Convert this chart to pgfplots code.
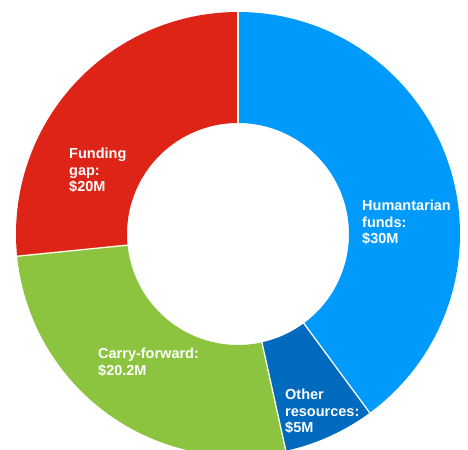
\documentclass[border=0pt]{standalone}
\usepackage{fontspec}
\setmainfont{Liberation Sans}
\usepackage{pgfplots}
\usepackage{pgfplotstable}
\pgfplotsset{compat=1.18}
\definecolor{slice0}{RGB}{0,154,252}
\definecolor{slice1}{RGB}{0,106,190}
\definecolor{slice2}{RGB}{141,196,63}
\definecolor{slice3}{RGB}{221,36,22}
\pgfplotstableread{
value
30
5
20.2
20
}\donutdata
\begin{document}
\begin{tikzpicture}
\useasboundingbox (0,0) rectangle (468bp,450bp);
\clip (0,0) rectangle (468bp,450bp);
\begin{axis}[hide axis, scale only axis, x=1bp, y=1bp,
  xmin=-238, xmax=230, ymin=-216, ymax=234,
  at={(0,0)}, anchor=south west, clip=false]
\pgfplotsextra{
  \xdef\total{0}
  \pgfplotstablegetrowsof{\donutdata}
  \pgfmathtruncatemacro{\nrows}{\pgfplotsretval-1}
  \foreach \i in {0,...,\nrows}{
    \pgfplotstablegetelem{\i}{value}\of\donutdata
    \pgfmathparse{\total+\pgfplotsretval}\xdef\total{\pgfmathresult}
  }
  \xdef\cum{0}
  \foreach \i in {0,...,\nrows}{
    \pgfplotstablegetelem{\i}{value}\of\donutdata
    \pgfmathsetmacro{\aa}{90-\cum/\total*360}
    \pgfmathsetmacro{\bb}{90-(\cum+\pgfplotsretval)/\total*360}
    \pgfmathparse{\cum+\pgfplotsretval}\xdef\cum{\pgfmathresult}
    \fill[slice\i] (axis cs:{222*cos(\aa)},{222*sin(\aa)}) arc[start angle=\aa, end angle=\bb, radius=222bp]
      -- (axis cs:{111*cos(\bb)},{111*sin(\bb)}) arc[start angle=\bb, end angle=\aa, radius=111bp] -- cycle;
  }
  \xdef\cum{0}
  \foreach \i in {0,...,\nrows}{
    \pgfplotstablegetelem{\i}{value}\of\donutdata
    \pgfmathsetmacro{\aa}{90-\cum/\total*360}
    \pgfmathparse{\cum+\pgfplotsretval}\xdef\cum{\pgfmathresult}
    \draw[white!92!yellow, line width=1.3bp] (axis cs:{110*cos(\aa)},{110*sin(\aa)}) -- (axis cs:{223*cos(\aa)},{223*sin(\aa)});
  }
}
\begin{scope}[every node/.style={text=white, align=left, anchor=north west, inner sep=0pt,
   font=\fontsize{14.5bp}{16.5bp}\selectfont\bfseries}]
\node at (axis cs:-169,86) {Funding\\gap:\\\$20M};
\node at (axis cs:124,34) {Humantarian\\funds:\\\$30M};
\node at (axis cs:-140,-114) {Carry-forward:\\\$20.2M};
\node at (axis cs:47,-155) {Other\\resources:\\\$5M};
\end{scope}
\end{axis}
\end{tikzpicture}
\end{document}
